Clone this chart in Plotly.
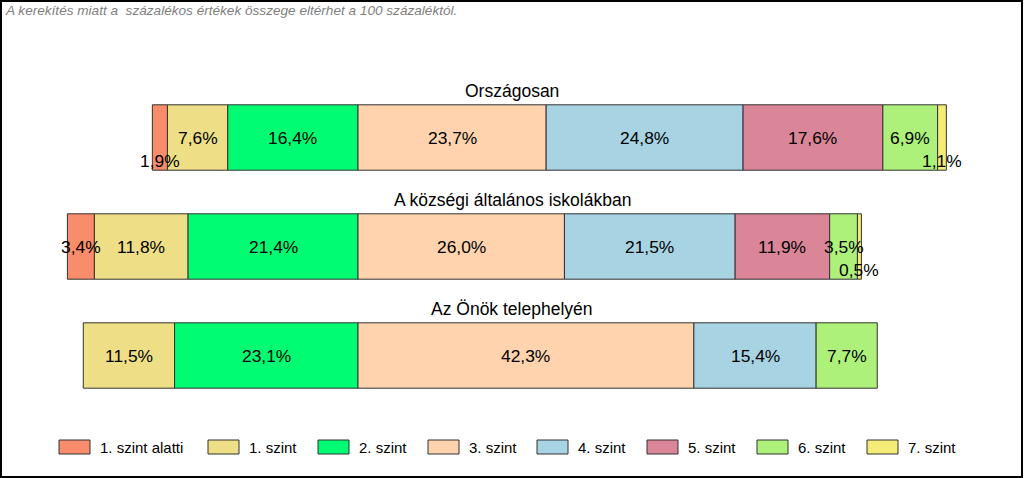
import plotly.graph_objects as go

groups = ["Országosan", "A községi általános iskolákban", "Az Önök telephelyén"]
levels = ["1. szint alatti", "1. szint", "2. szint", "3. szint",
          "4. szint", "5. szint", "6. szint", "7. szint"]

lvl_alatti = [1.9, 3.4, None]
lvl_1 = [7.6, 11.8, 11.5]
lvl_2 = [16.4, 21.4, 23.1]
lvl_3 = [23.7, 26.0, 42.3]
lvl_4 = [24.8, 21.5, 15.4]
lvl_5 = [17.6, 11.9, None]
lvl_6 = [6.9, 3.5, 7.7]
lvl_7 = [1.1, 0.5, None]

series = [lvl_alatti, lvl_1, lvl_2, lvl_3, lvl_4, lvl_5, lvl_6, lvl_7]
colors = ["#F98D6B", "#EEDF86", "#00FC72", "#FED3AD",
          "#A7D3E3", "#DA8598", "#AEF17A", "#F4EC77"]

note = "A kerekítés miatt a  százalékos értékek összege eltérhet a 100 százaléktól."

W, H = 1024, 478
FONT = "Liberation Sans, Arial, sans-serif"

fig = go.Figure()
annotations = []

# starting position: bars aligned at start of "3. szint"
starts = []
for g in range(len(groups)):
    neg = sum((s[g] or 0) for s in series[:3])
    starts.append(-neg)

cum = list(starts)
for li, (name, vals, col) in enumerate(zip(levels, series, colors)):
    ys, xs, bases = [], [], []
    for g, v in enumerate(vals):
        if v is None:
            continue
        ys.append(g)
        xs.append(v)
        bases.append(cum[g])
        small = v < 3
        annotations.append(dict(
            x=cum[g] + v / 2, y=g, xref="x", yref="y",
            text=f"{v:.1f}".replace(".", ",") + "%",
            showarrow=False, yshift=-23 if small else 0,
            font=dict(family=FONT, size=17.4, color="#000000"),
        ))
        cum[g] += v
    fig.add_trace(go.Bar(
        y=ys, x=xs, base=bases, orientation="h", name=name,
        marker=dict(color=col, line=dict(color="#333333", width=1)),
        width=0.6, showlegend=False, hoverinfo="skip",
    ))

# group titles
for g, name in enumerate(groups):
    annotations.append(dict(
        x=0.5, y=g, xref="paper", yref="y", text=name, showarrow=False,
        yshift=47, font=dict(family=FONT, size=17.5, color="#000000"),
    ))

# note at top-left
annotations.append(dict(
    x=3 / W, y=1 - 11 / H, xref="paper", yref="paper", text=note,
    showarrow=False, xanchor="left", yanchor="middle",
    font=dict(family=FONT, size=13.6, color="#7F7F7F", style="italic"),
))

# manual legend
legend_x = [59, 208, 318, 428, 537, 647, 757, 867]
shapes = []
for name, col, lx in zip(levels, colors, legend_x):
    shapes.append(dict(
        type="rect", xref="paper", yref="paper",
        x0=lx / W, x1=(lx + 31) / W, y0=1 - 454 / H, y1=1 - 440 / H,
        fillcolor=col, line=dict(color="#333333", width=1),
    ))
    annotations.append(dict(
        x=(lx + 39) / W, y=1 - 447 / H, xref="paper", yref="paper",
        text=name, showarrow=False, xanchor="left", yanchor="middle",
        font=dict(family=FONT, size=15, color="#000000"),
    ))

# outer frame
shapes.append(dict(
    type="rect", xref="paper", yref="paper",
    x0=1 / W, x1=1022 / W, y0=1 - 477 / H, y1=1 - 1 / H,
    line=dict(color="#000000", width=2), fillcolor="rgba(0,0,0,0)",
))

px_per = 7.94
zero_px = 358
fig.update_layout(
    width=W, height=H,
    margin=dict(l=0, r=0, t=0, b=0),
    paper_bgcolor="white", plot_bgcolor="white",
    barmode="overlay",
    xaxis=dict(range=[-zero_px / px_per, (W - zero_px) / px_per], domain=[0, 1],
               showgrid=False, zeroline=False, showticklabels=False, showline=False),
    yaxis=dict(range=[2.5, -0.5], domain=[1 - 410 / H, 1 - 83 / H],
               showgrid=False, zeroline=False, showticklabels=False, showline=False),
    annotations=annotations, shapes=shapes,
    font=dict(family=FONT),
)

fig.write_html(
    "out.html",
    config={"displayModeBar": False},
    post_script="document.body.style.margin='0';document.body.style.overflow='hidden';",
)
